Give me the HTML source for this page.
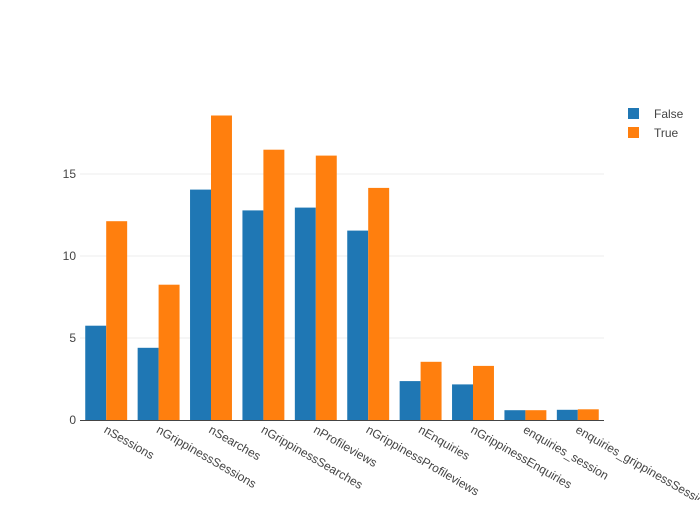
<!DOCTYPE html>
<html><head><meta charset="utf-8"><style>body{margin:0;background:#fff}</style></head>
<body>
<svg width="700" height="500" xmlns="http://www.w3.org/2000/svg" font-family="'Liberation Sans',sans-serif" font-size="12" fill="#444">
<rect width="700" height="500" fill="#fff"/>
<g stroke="#eee" stroke-width="1">
<line x1="80" x2="604" y1="338" y2="338"/>
<line x1="80" x2="604" y1="256" y2="256"/>
<line x1="80" x2="604" y1="174" y2="174"/>
</g>
<g text-anchor="end">
<text x="76" y="424">0</text>
<text x="76" y="342">5</text>
<text x="76" y="260">10</text>
<text x="76" y="178">15</text>
</g>
<g fill="#1f77b4">
<rect x="85.24" y="325.7" width="20.96" height="94.3"/>
<rect x="137.64" y="347.8" width="20.96" height="72.2"/>
<rect x="190.04" y="189.6" width="20.96" height="230.4"/>
<rect x="242.44" y="210.4" width="20.96" height="209.6"/>
<rect x="294.84" y="207.6" width="20.96" height="212.4"/>
<rect x="347.24" y="230.6" width="20.96" height="189.4"/>
<rect x="399.64" y="381.1" width="20.96" height="38.9"/>
<rect x="452.04" y="384.4" width="20.96" height="35.6"/>
<rect x="504.44" y="410.2" width="20.96" height="9.8"/>
<rect x="556.84" y="409.8" width="20.96" height="10.2"/>
</g>
<g fill="#ff7f0e">
<rect x="106.2" y="221.2" width="20.96" height="198.8"/>
<rect x="158.6" y="284.7" width="20.96" height="135.3"/>
<rect x="211.0" y="115.5" width="20.96" height="304.5"/>
<rect x="263.4" y="149.7" width="20.96" height="270.3"/>
<rect x="315.8" y="155.6" width="20.96" height="264.4"/>
<rect x="368.2" y="187.9" width="20.96" height="232.1"/>
<rect x="420.6" y="361.8" width="20.96" height="58.2"/>
<rect x="473.0" y="365.9" width="20.96" height="54.1"/>
<rect x="525.4" y="410.2" width="20.96" height="9.8"/>
<rect x="577.8" y="409.3" width="20.96" height="10.7"/>
</g>
<line x1="80" x2="604" y1="420.5" y2="420.5" stroke="#444" stroke-width="1"/>
<text x="103.2" y="432" transform="rotate(30 103.2 432)">nSessions</text>
<text x="155.6" y="432" transform="rotate(30 155.6 432)">nGrippinessSessions</text>
<text x="208" y="432" transform="rotate(30 208 432)">nSearches</text>
<text x="260.4" y="432" transform="rotate(30 260.4 432)">nGrippinessSearches</text>
<text x="312.8" y="432" transform="rotate(30 312.8 432)">nProfileviews</text>
<text x="365.2" y="432" transform="rotate(30 365.2 432)">nGrippinessProfileviews</text>
<text x="417.6" y="432" transform="rotate(30 417.6 432)">nEnquiries</text>
<text x="470" y="432" transform="rotate(30 470 432)">nGrippinessEnquiries</text>
<text x="522.4" y="432" transform="rotate(30 522.4 432)">enquiries_session</text>
<text x="574.8" y="432" transform="rotate(30 574.8 432)">enquiries_grippinessSession</text>
<rect x="628" y="108" width="11" height="11" fill="#1f77b4"/>
<text x="654" y="118">False</text>
<rect x="628" y="127" width="11" height="11" fill="#ff7f0e"/>
<text x="654" y="137">True</text>
</svg>
</body></html>
